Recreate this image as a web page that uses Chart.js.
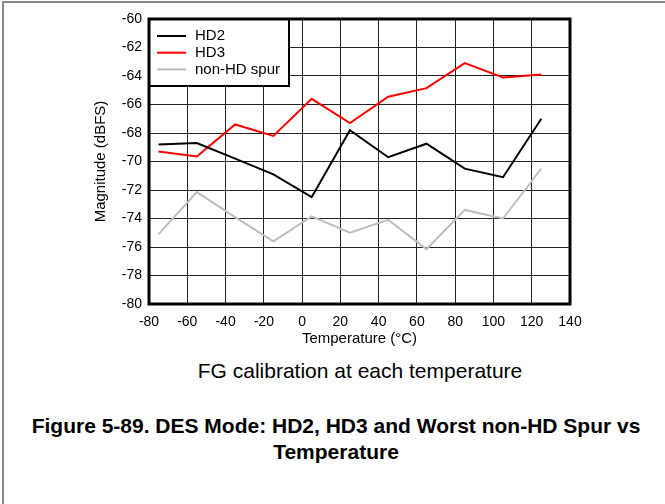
<!DOCTYPE html>
<html>
<head>
<meta charset="utf-8">
<script src="https://cdn.jsdelivr.net/npm/chart.js@4.4.1/dist/chart.umd.min.js"></script>
<style>
  html, body { margin: 0; padding: 0; background: #fff; }
  body { width: 665px; height: 504px; position: relative; overflow: hidden; font-family: "Liberation Sans", Arial, sans-serif; color: #000; }
  .frame { position: absolute; left: 2px; top: 1px; width: 700px; height: 600px; border-left: 2px solid #888; border-top: 2px solid #888; }
  #chart { position: absolute; left: 0; top: 0; }
  .sub { position: absolute; top: 359px; left: 0; width: 720px; text-align: center; font-size: 21px; line-height: 24px; white-space: nowrap; }
  .caption { position: absolute; top: 413px; left: 0; width: 672px; text-align: center; font-size: 21px; line-height: 26px; font-weight: bold; white-space: nowrap; }
</style>
</head>
<body>
<div class="frame"></div>
<canvas id="chart" width="665" height="350"></canvas>
<div class="sub">FG calibration at each temperature</div>
<div class="caption">Figure 5-89. DES Mode: HD2, HD3 and Worst non-HD Spur vs<br>Temperature</div>
<script>
// temperatures (°C) and magnitudes (dBFS)
const temps = [-75, -55, -35, -15, 5, 25, 45, 65, 85, 105, 125];
const hd2 = [-68.8, -68.7, -69.8, -70.9, -72.5, -67.8, -69.7, -68.75, -70.5, -71.1, -67.0];
const hd3 = [-69.3, -69.65, -67.4, -68.2, -65.6, -67.3, -65.45, -64.85, -63.1, -64.1, -63.9];
const spur = [-75.1, -72.15, -73.9, -75.6, -73.85, -75.0, -74.1, -76.15, -73.4, -74.0, -70.5];

const xTickValues = [-80, -60, -40, -20, 0, 20, 40, 60, 80, 100, 120, 140];
const yTickValues = [-80, -78, -76, -74, -72, -70, -68, -66, -64, -62, -60];

const FONT = '"Liberation Sans", Arial, sans-serif';

function toPoints(values) {
  return temps.map((t, i) => ({ x: t, y: values[i] }));
}

// boxed legend in the top-left corner plus the thick plot frame
const boxLegend = {
  id: 'boxLegend',
  afterDatasetsDraw(chart) {
    const { ctx, chartArea } = chart;
    const x0 = chartArea.left, y0 = chartArea.top;
    ctx.save();
    ctx.fillStyle = '#fff';
    ctx.fillRect(x0, y0, 140, 67);
    ctx.lineWidth = 2;
    ctx.strokeStyle = '#000';
    ctx.strokeRect(x0, y0, 140, 67);
    ctx.font = '15px ' + FONT;
    ctx.textBaseline = 'middle';
    chart.data.datasets.forEach((ds, i) => {
      const y = y0 + 17 + i * 16.7;
      ctx.strokeStyle = ds.borderColor;
      ctx.lineWidth = 2;
      ctx.beginPath();
      ctx.moveTo(x0 + 8, y);
      ctx.lineTo(x0 + 37, y);
      ctx.stroke();
      ctx.fillStyle = '#000';
      ctx.fillText(ds.label, x0 + 46, y);
    });
    ctx.strokeStyle = '#000';
    ctx.lineWidth = 3;
    ctx.strokeRect(chartArea.left, chartArea.top, chartArea.width, chartArea.height);
    ctx.restore();
  }
};

const ctx = document.getElementById('chart').getContext('2d');
new Chart(ctx, {
  type: 'line',
  data: {
    datasets: [
      { label: 'HD2', data: toPoints(hd2), borderColor: '#000000' },
      { label: 'HD3', data: toPoints(hd3), borderColor: '#ff0000' },
      { label: 'non-HD spur', data: toPoints(spur), borderColor: '#bdbdbd' }
    ].map(ds => Object.assign(ds, { borderWidth: 2, pointRadius: 0, tension: 0, fill: false }))
  },
  options: {
    responsive: false,
    animation: false,
    devicePixelRatio: 1,
    layout: { padding: { left: 92, top: 19, right: 95, bottom: 0 } },
    plugins: { legend: { display: false }, tooltip: { enabled: false } },
    scales: {
      x: {
        type: 'linear',
        min: -80,
        max: 140,
        afterBuildTicks: s => { s.ticks = xTickValues.map(v => ({ value: v })); },
        afterFit: s => { s.height = 46; },
        grid: { color: '#222', lineWidth: 1, drawTicks: false },
        border: { display: false },
        ticks: { color: '#000', padding: 10, font: { family: FONT, size: 14 } },
        title: { display: true, text: 'Temperature (°C)', color: '#000', padding: { top: 0, bottom: 2 }, font: { family: FONT, size: 15 } }
      },
      y: {
        min: -80,
        max: -60,
        afterBuildTicks: s => { s.ticks = yTickValues.map(v => ({ value: v })); },
        afterFit: s => { s.width = 57; },
        grid: { color: '#222', lineWidth: 1, drawTicks: false },
        border: { display: false },
        ticks: { color: '#000', padding: 7, font: { family: FONT, size: 14 } },
        title: { display: true, text: 'Magnitude (dBFS)', color: '#000', padding: { top: 0, bottom: 0 }, font: { family: FONT, size: 15 } }
      }
    }
  },
  plugins: [boxLegend]
});
</script>
</body>
</html>
